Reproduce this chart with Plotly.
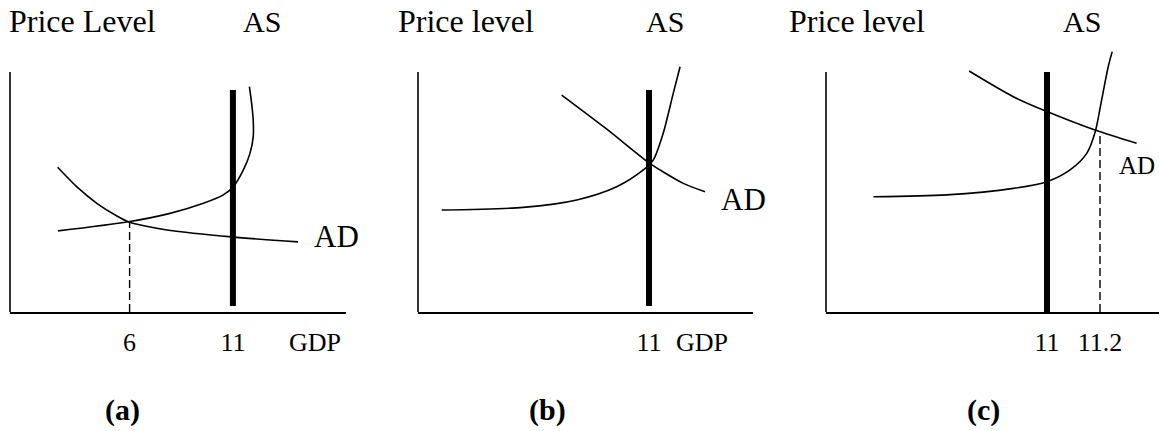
import plotly.graph_objects as go

# ---------------- data (schematic AD/AS diagrams) ----------------
# Panel (a)
a_as_x = [2.39, 5.89, 7.96, 9.62, 10.61, 11.11, 11.61, 11.94, 12.10, 12.10, 12.02, 11.91]
a_as_y = [3.38, 3.76, 4.11, 4.53, 4.88, 5.22, 5.92, 6.61, 7.30, 8.00, 8.70, 9.39]
a_ad_x = [2.37, 3.37, 4.32, 5.32, 5.89, 6.72, 7.81, 11.04, 14.33]
a_ad_y = [6.03, 5.18, 4.53, 4.00, 3.76, 3.58, 3.42, 3.13, 2.92]
a_lras_x = 11.09
a_lras_y = [0.25, 9.25]
a_eq_x = 5.95
a_eq_y = 3.76
a_ticks = [5.95, 11.09]
a_ticktext = ["6", "11"]

# Panel (b)
b_as_x = [1.13, 5.01, 7.56, 9.46, 10.73, 11.20, 11.68, 12.16, 12.48]
b_as_y = [4.25, 4.36, 4.67, 5.22, 5.92, 6.33, 7.46, 9.13, 10.22]
b_ad_x = [6.84, 8.90, 11.02, 11.52, 12.63, 13.67]
b_ad_y = [9.04, 7.68, 6.20, 5.92, 5.36, 5.01]
b_lras_x = 11
b_lras_y = [0.25, 9.25]
b_ticks = [11]
b_ticktext = ["11"]

# Panel (c)
c_as_x = [10.345, 10.621, 10.873, 11.0, 11.087, 11.150, 11.182, 11.206, 11.231, 11.246]
c_as_y = [4.80, 4.88, 5.15, 5.43, 5.92, 6.61, 7.51, 8.83, 10.22, 10.85]
c_ad_x = [10.706, 10.873, 11.0, 11.181, 11.338]
c_ad_y = [10.04, 8.97, 8.35, 7.58, 7.03]
c_lras_x = 11
c_lras_y = [0.0, 10.0]
c_eq_x = 11.2
c_eq_y = 7.46
c_ticks = [11, 11.2]
c_ticktext = ["11", "11.2"]

# ---------------- layout helpers ----------------
W, H = 1159, 431
FONT = "Liberation Serif"


def px(x):
    return x / W


def py(y):
    return 1 - y / H


fig = go.Figure()

thin = dict(color="black", width=1.6)


def add_panel(n, as_x, as_y, ad_x, ad_y, lr_x, lr_y, eq=None):
    xa = "x" if n == 1 else f"x{n}"
    ya = "y" if n == 1 else f"y{n}"
    fig.add_trace(go.Scatter(x=as_x, y=as_y, mode="lines", line=dict(shape="spline", smoothing=0.8, **thin),
                             xaxis=xa, yaxis=ya, showlegend=False, hoverinfo="skip"))
    fig.add_trace(go.Scatter(x=ad_x, y=ad_y, mode="lines", line=dict(shape="spline", smoothing=0.8, **thin),
                             xaxis=xa, yaxis=ya, showlegend=False, hoverinfo="skip"))
    fig.add_trace(go.Scatter(x=[lr_x, lr_x], y=lr_y, mode="lines", line=dict(color="black", width=6),
                             xaxis=xa, yaxis=ya, showlegend=False, hoverinfo="skip"))
    if eq is not None:
        fig.add_trace(go.Scatter(x=[eq[0], eq[0]], y=[0, eq[1]], mode="lines",
                                 line=dict(color="black", width=1.4, dash="8px,4px"),
                                 xaxis=xa, yaxis=ya, showlegend=False, hoverinfo="skip"))
    # vertical (price) axis line
    fig.add_shape(type="line", xref=f"{xa} domain", yref=ya, x0=0, x1=0, y0=0, y1=10,
                  line=dict(color="black", width=1.6))


add_panel(1, a_as_x, a_as_y, a_ad_x, a_ad_y, a_lras_x, a_lras_y, (a_eq_x, a_eq_y))
add_panel(2, b_as_x, b_as_y, b_ad_x, b_ad_y, b_lras_x, b_lras_y)
add_panel(3, c_as_x, c_as_y, c_ad_x, c_ad_y, c_lras_x, c_lras_y, (c_eq_x, c_eq_y))

ydom = [py(312), 1.0]


def xaxis(dom, rng, tv, tt):
    return dict(domain=dom, range=rng, showgrid=False, zeroline=False, showline=True,
                linecolor="black", linewidth=1.6, ticks="", tickvals=tv, ticktext=tt,
                tickfont=dict(family=FONT, size=26, color="black"), ticklabelstandoff=6,
                fixedrange=True)


def yaxis(anchor):
    return dict(domain=ydom, range=[0, 13], showgrid=False, zeroline=False, showline=False,
                showticklabels=False, ticks="", anchor=anchor, fixedrange=True)


fig.update_layout(
    width=W, height=H, margin=dict(l=0, r=0, t=0, b=0),
    paper_bgcolor="white", plot_bgcolor="rgba(0,0,0,0)",
    xaxis=xaxis([px(10), px(346)], [0, 336 / 20.1], a_ticks, a_ticktext),
    xaxis2=dict(xaxis([px(418), px(753)], [0, 335 / 21], b_ticks, b_ticktext), anchor="y2"),
    xaxis3=dict(xaxis([px(826), 1.0], [10.166, 10.166 + 333 / 265], c_ticks, c_ticktext), anchor="y3"),
    yaxis=yaxis("x"),
    yaxis2=yaxis("x2"),
    yaxis3=yaxis("x3"),
)


def ann(text, x, y, size, xanchor="center"):
    fig.add_annotation(text=text, x=px(x), y=py(y), xref="paper", yref="paper", showarrow=False,
                       xanchor=xanchor, yanchor="middle",
                       font=dict(family=FONT, size=size, color="black"))


# titles
ann("Price Level", 7, 21, 32, "left")
ann("AS", 262, 21, 30)
ann("Price level", 396, 21, 32, "left")
ann("AS", 665, 21, 30)
ann("Price level", 787, 21, 32, "left")
ann("AS", 1082, 21, 30)
# curve labels
ann("AD", 336, 236, 31)
ann("AD", 743, 199, 31)
ann("AD", 1137, 166, 25)
# GDP labels
ann("GDP", 315, 342, 26)
ann("GDP", 702, 342, 26)
# panel letters
ann("<b>(a)</b>", 123, 410, 30)
ann("<b>(b)</b>", 547, 410, 30)
ann("<b>(c)</b>", 983, 410, 30)

fig.write_html("out.html", config={"displayModeBar": False},
               post_script="document.body.style.margin='0';document.body.style.overflow='hidden';")
